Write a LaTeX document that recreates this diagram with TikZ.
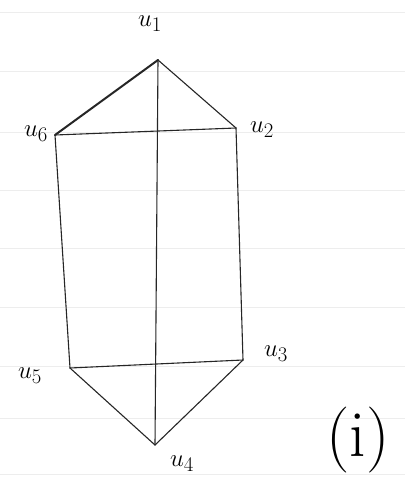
\documentclass[tikz,border=0pt]{standalone}
\usepackage{tikz}
\usetikzlibrary{positioning}
\tikzset{
  edge/.style  = {draw=black!85, line width=1.1pt, line cap=round},
  bold/.style  = {edge, line width=2pt},
  rule/.style  = {draw=black!7, line width=0.8pt},
  lbl/.style   = {inner sep=1pt, font=\fontsize{32}{34}\selectfont},
  tag/.style   = {inner sep=1pt, font=\fontsize{66}{68}\selectfont},
}
\begin{document}
\begin{tikzpicture}[x=1pt, y=-1pt]
  \useasboundingbox[fill=white] (0,0) rectangle (405,490);
  % ruled paper
  \foreach \y in {12,71,132,190,248,307,366,418,474}
    \draw[rule] (0,\y) -- (405,\y);
  % vertices
  \coordinate (u1) at (158,60);
  \coordinate (u6) at (55,135);
  \coordinate (u2) at (236,128);
  \coordinate (u5) at (70,368);
  \coordinate (u3) at (243,360);
  \coordinate (u4) at (155,445);
  % edges
  \draw[bold] (u1) -- (u6);
  \draw[edge] (u1) -- (u2);
  \draw[edge] (u1) -- (u4);
  \draw[edge] (u6) -- (u2);
  \draw[edge] (u6) -- (u5);
  \draw[edge] (u2) -- (u3);
  \draw[edge] (u5) -- (u3);
  \draw[edge] (u5) -- (u4);
  \draw[edge] (u3) -- (u4);
  % labels
  \node[lbl] (l1) at (150,24)  {$u_1$};
  \node[lbl] (l6) at (36,134)  {$u_6$};
  \node[lbl] (l2) at (262,130) {$u_2$};
  \node[lbl] (l5) at (30,376)  {$u_5$};
  \node[lbl] (l3) at (276,354) {$u_3$};
  \node[lbl] (l4) at (182,464) {$u_4$};
  \node[tag] (tg) at (358,440) {(i)};
\end{tikzpicture}
\end{document}
